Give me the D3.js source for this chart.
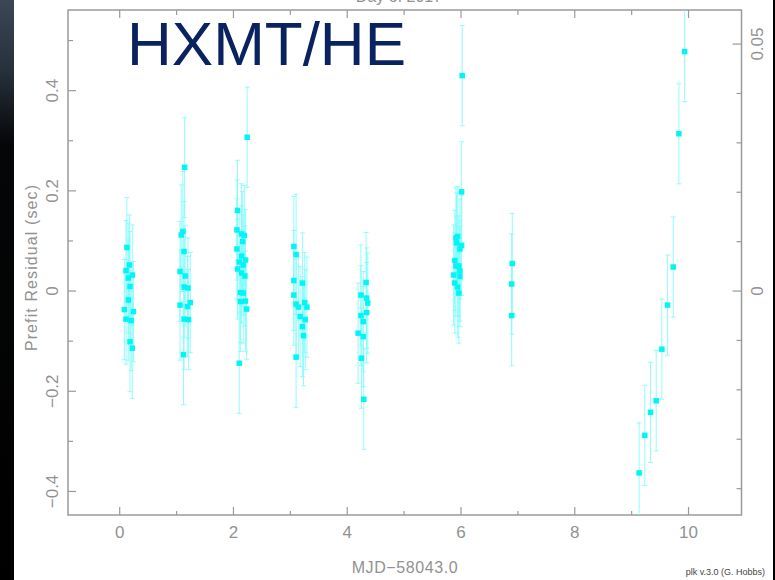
<!DOCTYPE html>
<html>
<head>
<meta charset="utf-8">
<script src="https://cdn.jsdelivr.net/npm/d3@7"></script>
<style>
  body { margin: 0; background: #fff; }
  svg { display: block; }
  .tick text { font-family: "Liberation Sans", Arial, sans-serif; font-size: 17px; fill: #929292; }
  .tick line { stroke: #9a9a9a; stroke-width: 1.2; }
</style>
</head>
<body>
<svg id="chart" width="775" height="580"></svg>
<script>
// Time since MJD 58043.0 (days), prefit residual (s) and its uncertainty (s)
const mjdOffset = [
  0.135, 0.18, 0.12, 0.23, 0.16, 0.19, 0.16, 0.09, 0.25, 0.12, 0.21, 0.19, 0.23,
  1.15, 1.12, 1.09, 1.14, 1.07, 1.16, 1.14, 1.21, 1.25, 1.07, 1.20, 1.14, 1.22, 1.13,
  2.25, 2.08, 2.07, 2.15, 2.20, 2.17, 2.07, 2.15, 2.22, 2.11, 2.18, 2.08, 2.15, 2.21,
  2.13, 2.18, 2.13, 2.22, 2.24, 2.11,
  3.07, 3.11, 3.07, 3.22, 3.07, 3.26, 3.11, 3.15, 3.30, 3.18, 3.27, 3.22, 3.24, 3.11,
  4.34, 4.25, 4.35, 4.37, 4.25, 4.35, 4.29, 4.20, 4.29, 4.26, 4.30,
  6.03, 6.02, 5.92, 5.95, 5.93, 6.02, 5.99, 5.90, 5.92, 5.97, 5.99, 5.88, 5.99, 5.90, 5.95, 5.97,
  6.91, 6.90, 6.90,
  9.14, 9.24, 9.34, 9.44, 9.54, 9.64, 9.74, 9.84, 9.94
];
const residual = [
  0.086, 0.051, 0.040, 0.031, 0.025, 0.008, -0.019, -0.038, -0.042, -0.057, -0.060, -0.102, -0.115,
  0.246, 0.118, 0.111, 0.078, 0.038, 0.029, 0.007, 0.005, -0.024, -0.029, -0.032, -0.057, -0.058, -0.128,
  0.306, 0.160, 0.121, 0.113, 0.110, 0.098, 0.083, 0.069, 0.061, 0.057, 0.051, 0.043, 0.035, 0.029,
  -0.004, -0.005, -0.022, -0.021, -0.037, -0.145,
  0.088, 0.072, 0.020, 0.015, -0.009, -0.024, -0.027, -0.033, -0.033, -0.052, -0.058, -0.072, -0.090, -0.133,
  0.016, -0.009, -0.015, -0.025, -0.050, -0.044, -0.062, -0.085, -0.092, -0.135, -0.217,
  0.429, 0.197, 0.105, 0.108, 0.095, 0.090, 0.083, 0.060, 0.049, 0.049, 0.039, 0.031, 0.028, 0.015, 0.007, -0.005,
  0.054, 0.013, -0.050,
  -0.364, -0.289, -0.243, -0.220, -0.117, -0.029, 0.047, 0.313, 0.477
];
const uncertainty = [
  0.10, 0.10, 0.10, 0.10, 0.11, 0.11, 0.12, 0.10, 0.10, 0.09, 0.10, 0.10, 0.10,
  0.10, 0.12, 0.10, 0.10, 0.10, 0.10, 0.10, 0.10, 0.10, 0.11, 0.10, 0.10, 0.10, 0.10,
  0.10, 0.10, 0.10, 0.10, 0.10, 0.10, 0.10, 0.10, 0.10, 0.10, 0.10, 0.10, 0.10, 0.10,
  0.10, 0.10, 0.10, 0.10, 0.10, 0.10,
  0.10, 0.12, 0.10, 0.10, 0.10, 0.10, 0.10, 0.10, 0.10, 0.10, 0.10, 0.10, 0.10, 0.10,
  0.10, 0.10, 0.10, 0.10, 0.10, 0.10, 0.10, 0.10, 0.10, 0.10, 0.10,
  0.10, 0.10, 0.10, 0.10, 0.10, 0.10, 0.10, 0.10, 0.10, 0.10, 0.10, 0.10, 0.10, 0.10, 0.10, 0.10,
  0.10, 0.10, 0.10,
  0.10, 0.10, 0.10, 0.10, 0.10, 0.10, 0.10, 0.10, 0.10
];

const xMajorTicks = [0, 2, 4, 6, 8, 10];
const xMinorTicks = [1, 3, 5, 7, 9];
const yMajorTicks = [-0.4, -0.2, 0, 0.2, 0.4];
const yMinorTicks = [-0.3, -0.1, 0.1, 0.3, 0.5];
const phaseMajorTicks = [0, 0.05];
const phaseMinorTicks = [-0.04, -0.03, -0.02, -0.01, 0.01, 0.02, 0.03, 0.04];
const period = 9.86; // seconds, for the right-hand (phase) axis

const points = mjdOffset.map((d, i) => ({ x: d, y: residual[i], e: uncertainty[i] }));

const svg = d3.select('#chart');
const frameLeft = 68, frameRight = 741.5, frameTop = 10, frameBottom = 515;

const x = d3.scaleLinear().domain([-0.9, 10.94]).range([frameLeft, frameRight]);
const y = d3.scaleLinear().domain([-0.448, 0.560]).range([frameBottom, frameTop]);
const yPhase = d3.scaleLinear().domain(y.domain().map(v => v / period)).range([frameBottom, frameTop]);

// dark strip on the left edge (photo background showing through)
const defs = svg.append('defs');
const grad = defs.append('linearGradient')
  .attr('id', 'edge').attr('x1', 0).attr('y1', 0).attr('x2', 0).attr('y2', 1);
grad.append('stop').attr('offset', '0%').attr('stop-color', '#3b4756');
grad.append('stop').attr('offset', '12%').attr('stop-color', '#27313c');
grad.append('stop').attr('offset', '25%').attr('stop-color', '#050607');
grad.append('stop').attr('offset', '100%').attr('stop-color', '#000');
svg.append('rect').attr('x', 0).attr('y', 0).attr('width', 14).attr('height', 580).attr('fill', 'url(#edge)');
svg.append('rect').attr('x', 773).attr('y', 0).attr('width', 2).attr('height', 580).attr('fill', '#000');

defs.append('clipPath').attr('id', 'plot')
  .append('rect').attr('x', frameLeft).attr('y', frameTop)
  .attr('width', frameRight - frameLeft).attr('height', frameBottom - frameTop);

// axes: ticks point inward, labels rotated like the original plk output
function strip(g) { g.select('.domain').remove(); }

svg.append('g').attr('transform', `translate(0,${frameBottom})`)
  .call(d3.axisBottom(x).tickValues(xMajorTicks).tickSize(-8).tickPadding(11).tickFormat(d3.format('d')))
  .call(strip);
svg.append('g').attr('transform', `translate(0,${frameBottom})`)
  .call(d3.axisBottom(x).tickValues(xMinorTicks).tickSize(-4).tickFormat(''))
  .call(strip);
svg.append('g').attr('transform', `translate(0,${frameTop})`)
  .call(d3.axisTop(x).tickValues(xMajorTicks).tickSize(-8).tickFormat(''))
  .call(strip);
svg.append('g').attr('transform', `translate(0,${frameTop})`)
  .call(d3.axisTop(x).tickValues(xMinorTicks).tickSize(-5).tickFormat(''))
  .call(strip);

const yAxis = svg.append('g').attr('transform', `translate(${frameLeft},0)`)
  .call(d3.axisLeft(y).tickValues(yMajorTicks).tickSize(-8).tickFormat(d => d === 0 ? '0' : d3.format('.1f')(d).replace('-', '\u2212')))
  .call(strip);
yAxis.selectAll('text')
  .attr('x', null).attr('dy', null)
  .attr('text-anchor', 'middle')
  .attr('transform', 'translate(-10,0) rotate(-90)');
svg.append('g').attr('transform', `translate(${frameLeft},0)`)
  .call(d3.axisLeft(y).tickValues(yMinorTicks).tickSize(-5).tickFormat(''))
  .call(strip);

const phaseAxis = svg.append('g').attr('transform', `translate(${frameRight},0)`)
  .call(d3.axisRight(yPhase).tickValues(phaseMajorTicks).tickSize(-9).tickFormat(d => d === 0 ? '0' : d3.format('.2f')(d)))
  .call(strip);
phaseAxis.selectAll('text')
  .attr('x', null).attr('dy', null)
  .attr('text-anchor', 'middle')
  .attr('transform', 'translate(21,0) rotate(-90)');
svg.append('g').attr('transform', `translate(${frameRight},0)`)
  .call(d3.axisRight(yPhase).tickValues(phaseMinorTicks).tickSize(-5).tickFormat(''))
  .call(strip);

svg.append('rect')
  .attr('x', frameLeft).attr('y', frameTop)
  .attr('width', frameRight - frameLeft).attr('height', frameBottom - frameTop)
  .attr('fill', 'none').attr('stroke', '#9a9a9a').attr('stroke-width', 1.5);

// error bars and points
const plot = svg.append('g').attr('clip-path', 'url(#plot)');
const bars = plot.append('g')
  .attr('stroke', '#7ffcfc').attr('stroke-width', 1).attr('stroke-opacity', 0.85)
  .selectAll('g').data(points).join('g');
bars.append('line')
  .attr('x1', d => x(d.x)).attr('x2', d => x(d.x))
  .attr('y1', d => y(d.y - d.e)).attr('y2', d => y(d.y + d.e));
bars.append('line')
  .attr('x1', d => x(d.x) - 2.5).attr('x2', d => x(d.x) + 2.5)
  .attr('y1', d => y(d.y + d.e)).attr('y2', d => y(d.y + d.e));
bars.append('line')
  .attr('x1', d => x(d.x) - 2.5).attr('x2', d => x(d.x) + 2.5)
  .attr('y1', d => y(d.y - d.e)).attr('y2', d => y(d.y - d.e));

plot.append('g').selectAll('rect').data(points).join('rect')
  .attr('x', d => x(d.x) - 2.75).attr('y', d => y(d.y) - 2.75)
  .attr('width', 5.5).attr('height', 5.5)
  .attr('fill', '#00f6f6');

// labels
const font = '"Liberation Sans", Arial, sans-serif';
svg.append('text')
  .attr('transform', `translate(37,${(frameTop + frameBottom) / 2 + 5}) rotate(-90)`)
  .attr('text-anchor', 'middle')
  .attr('font-family', font).attr('font-size', 16).attr('letter-spacing', 1.1).attr('fill', '#929292')
  .text('Prefit Residual (sec)');
svg.append('text')
  .attr('x', 405).attr('y', 573)
  .attr('text-anchor', 'middle')
  .attr('font-family', font).attr('font-size', 16).attr('letter-spacing', 0.6).attr('fill', '#929292')
  .text('MJD\u221258043.0');
svg.append('text')
  .attr('x', 399).attr('y', 2)
  .attr('text-anchor', 'middle')
  .attr('font-family', font).attr('font-size', 16).attr('fill', '#929292')
  .text('Day of 2017');
svg.append('text')
  .attr('x', 765).attr('y', 575)
  .attr('text-anchor', 'end')
  .attr('font-family', font).attr('font-size', 9).attr('fill', '#444')
  .text('plk v.3.0 (G. Hobbs)');
svg.append('text')
  .attr('x', 127).attr('y', 65)
  .attr('font-family', font).attr('font-size', 62).attr('fill', '#0b2260')
  .text('HXMT/HE');
</script>
</body>
</html>
